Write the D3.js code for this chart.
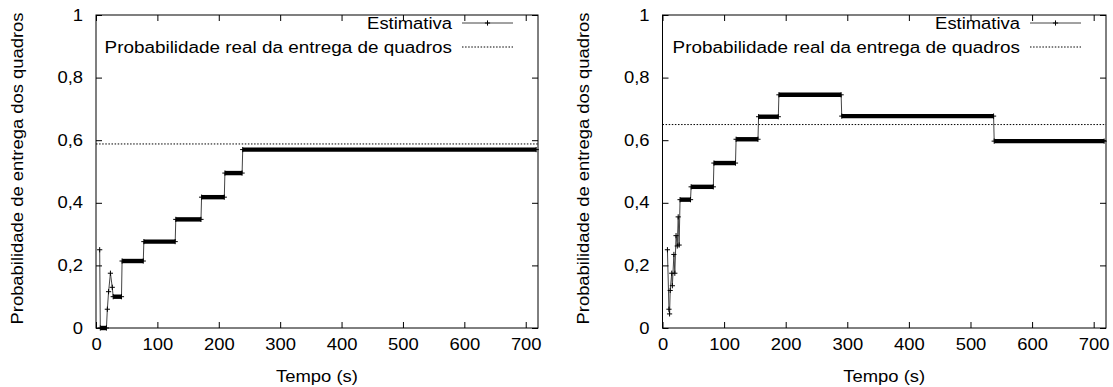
<!DOCTYPE html>
<html>
<head>
<meta charset="utf-8">
<script src="https://cdn.jsdelivr.net/npm/d3@7"></script>
<style>
  html, body { margin: 0; padding: 0; background: #fff; }
  svg { display: block; }
  text { font-family: "Liberation Sans", Arial, Helvetica, sans-serif; fill: #000; }
</style>
</head>
<body>
<svg id="chart" width="1113" height="387"></svg>
<script>
// ---- data ----
const xTicks = [0, 100, 200, 300, 400, 500, 600, 700];
const xTickLabels = ["0", "100", "200", "300", "400", "500", "600", "700"];
const yTicks = [0, 0.2, 0.4, 0.6, 0.8, 1];
const yTickLabels = ["0", "0,2", "0,4", "0,6", "0,8", "1"];
const xLabel = "Tempo (s)";
const yLabel = "Probabilidade de entrega dos quadros";
const legendEstimate = "Estimativa";
const legendReal = "Probabilidade real da entrega de quadros";

const leftTimes  = [6, 7, 17, 18.5, 20.5, 23.5, 26.5, 28, 41.5, 42.5, 77, 78, 129, 130, 171, 172, 209, 210, 238, 239, 717];
const leftValues = [0.25, 0, 0, 0.06, 0.116, 0.175, 0.13, 0.1, 0.1, 0.214, 0.214, 0.276, 0.276, 0.347, 0.347, 0.418, 0.418, 0.495, 0.495, 0.57, 0.57];
const leftReal = 0.588;

const rightTimes  = [8, 10.5, 11.5, 12.5, 15, 16, 18.5, 20, 22, 24, 25.5, 27, 28.5, 45.5, 46.5, 82.5, 83.5, 118.5, 119.5, 155, 156, 188, 189, 290, 291, 537.5, 538.5, 717];
const rightValues = [0.25, 0.06, 0.045, 0.12, 0.175, 0.135, 0.235, 0.175, 0.295, 0.262, 0.355, 0.265, 0.41, 0.41, 0.451, 0.451, 0.527, 0.527, 0.603, 0.603, 0.675, 0.675, 0.745, 0.745, 0.677, 0.677, 0.597, 0.597];
const rightReal = 0.65;

const xDomain = [0, 720];
const yDomain = [0, 1];

// ---- drawing ----
const svg = d3.select("#chart");
const FS = 16;

function widen(sel, k = 1.15) {
  sel.each(function () {
    const n = this;
    const w = n.getComputedTextLength();
    if (w > 0) {
      d3.select(n).attr("textLength", w * k).attr("lengthAdjust", "spacingAndGlyphs");
    }
  });
  return sel;
}

function panel(cfg) {
  const { left, right, top, bottom, times, values, real, titleX } = cfg;
  const x = d3.scaleLinear().domain(xDomain).range([left, right]);
  const y = d3.scaleLinear().domain(yDomain).range([bottom, top]);
  const g = svg.append("g");
  const data = times.map((t, i) => ({ t, v: values[i] }));

  // real probability (dotted)
  g.append("line")
    .attr("x1", x(xDomain[0])).attr("x2", x(xDomain[1]))
    .attr("y1", y(real)).attr("y2", y(real))
    .attr("stroke", "#000").attr("stroke-width", 1)
    .attr("stroke-dasharray", "1.5,1.6");

  // estimate line
  const line = d3.line().x(d => x(d.t)).y(d => y(d.v));
  g.append("path").datum(data)
    .attr("d", line).attr("fill", "none")
    .attr("stroke", "#444").attr("stroke-width", 1);

  // dense marker bands (consecutive equal values)
  const bands = [];
  for (let i = 0; i < data.length - 1; i++) {
    if (data[i].v === data[i + 1].v) bands.push([data[i], data[i + 1]]);
  }
  g.selectAll("line.band").data(bands).enter().append("line")
    .attr("class", "band")
    .attr("x1", d => x(d[0].t)).attr("x2", d => x(d[1].t))
    .attr("y1", d => y(d[0].v)).attr("y2", d => y(d[1].v))
    .attr("stroke", "#000").attr("stroke-width", 4.4);

  // markers
  const m = 2.6;
  g.selectAll("path.mk").data(data).enter().append("path")
    .attr("class", "mk")
    .attr("d", d => `M${x(d.t) - m},${y(d.v)}H${x(d.t) + m}M${x(d.t)},${y(d.v) - m}V${y(d.v) + m}`)
    .attr("stroke", "#000").attr("stroke-width", 1);

  // axes with inward ticks
  const ax = (gen, tr) => {
    const a = g.append("g").attr("transform", tr).call(gen);
    a.select(".domain").remove();
    a.selectAll(".tick line").attr("stroke", "#000");
    a.selectAll("text").attr("font-size", FS).style("font-family", '"Liberation Sans", Arial, sans-serif');
    widen(a.selectAll("text"));
    return a;
  };
  ax(d3.axisBottom(x).tickValues(xTicks).tickFormat((d, i) => xTickLabels[i]).tickSize(-6).tickPadding(11), `translate(0,${bottom})`);
  ax(d3.axisTop(x).tickValues(xTicks).tickFormat("").tickSize(-6), `translate(0,${top})`);
  ax(d3.axisLeft(y).tickValues(yTicks).tickFormat((d, i) => yTickLabels[i]).tickSize(-6).tickPadding(13), `translate(${left},0)`);
  ax(d3.axisRight(y).tickValues(yTicks).tickFormat("").tickSize(-6), `translate(${right},0)`);

  // frame
  g.append("rect").attr("x", left).attr("y", top)
    .attr("width", right - left).attr("height", bottom - top)
    .attr("fill", "none").attr("stroke", "#000").attr("stroke-width", 1);

  // axis titles
  widen(g.append("text").attr("x", (left + right) / 2).attr("y", 382)
    .attr("text-anchor", "middle").attr("font-size", FS).text(xLabel));
  widen(g.append("text")
    .attr("transform", `translate(${titleX},${(top + bottom) / 2 - 3}) rotate(-90)`)
    .attr("text-anchor", "middle").attr("font-size", FS).text(yLabel));

  // legend
  const lx1 = right - 76, lx2 = right - 25, tx = right - 86;
  const r1 = 23, r2 = 47;
  widen(g.append("text").attr("x", tx).attr("y", r1 + 6).attr("text-anchor", "end").attr("font-size", FS).text(legendEstimate));
  g.append("line").attr("x1", lx1).attr("x2", lx2).attr("y1", r1).attr("y2", r1)
    .attr("stroke", "#444").attr("stroke-width", 1);
  const cx = (lx1 + lx2) / 2;
  g.append("path").attr("d", `M${cx - m},${r1}H${cx + m}M${cx},${r1 - m}V${r1 + m}`)
    .attr("stroke", "#000").attr("stroke-width", 1);
  widen(g.append("text").attr("x", tx).attr("y", r2 + 6).attr("text-anchor", "end").attr("font-size", FS).text(legendReal), 1.18);
  g.append("line").attr("x1", lx1).attr("x2", lx2).attr("y1", r2).attr("y2", r2)
    .attr("stroke", "#000").attr("stroke-width", 1).attr("stroke-dasharray", "1.5,1.6");
}

panel({ left: 96, right: 538, top: 15, bottom: 328, times: leftTimes, values: leftValues, real: leftReal, titleX: 23 });
panel({ left: 662.5, right: 1106, top: 15, bottom: 328, times: rightTimes, values: rightValues, real: rightReal, titleX: 589 });
</script>
</body>
</html>
